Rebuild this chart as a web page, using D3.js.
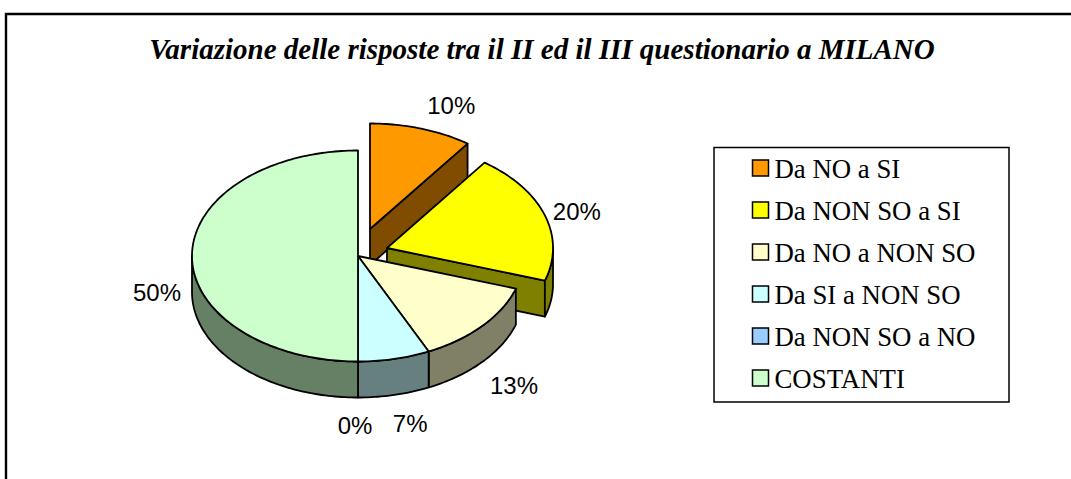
<!DOCTYPE html>
<meta charset="utf-8">
<style>
body { margin: 0; background: #fff; }
text { fill: #000; }
.title { font: italic bold 29px "Liberation Serif", serif; text-anchor: middle; }
.pct { font: 24px "Liberation Sans", sans-serif; text-anchor: middle; dominant-baseline: central; }
.legend-label { font: 26.8px "Liberation Serif", serif; dominant-baseline: central; }
.edge { stroke: #000; stroke-width: 1.8px; stroke-linejoin: round; }
</style>
<body>
<svg width="1071" height="479"></svg>
<script src="https://d3js.org/d3.v7.min.js"></script>
<script>

// chart data
var titleText = "Variazione delle risposte tra il II ed il III questionario a MILANO";
var categories = ["Da NO a SI", "Da NON SO a SI", "Da NO a NON SO", "Da SI a NON SO", "Da NON SO a NO", "COSTANTI"];
var values = [10, 20, 13, 7, 0, 50];
var colors = ["#ff9900", "#ffff00", "#ffffcc", "#ccffff", "#99ccff", "#ccffcc"];

// layout of the fake 3d pie
var cx = 358, cy = 256, rx = 166, ry = 105.5, depth = 36;
var pulled = [[12, -27], [29, -8], [0, 0], [0, 0], [0, 0], [0, 0]];
var labelNudge = [[30, -23], [32, -4], [31.5, 60], [16, 65], [-3, 63.5], [-35, 36]];

var svg = d3.select("svg");

var slices = d3.pie().sort(null)(values);

var px = d3.scaleLinear().domain([-1, 1]).range([cx - rx, cx + rx]);
var py = d3.scaleLinear().domain([-1, 1]).range([cy - ry, cy + ry]);

// angle runs clockwise from 12 o'clock, same as d3.pie
function point(a, dx, dy, drop) {
  return [px(Math.sin(a)) + dx, py(-Math.cos(a)) + dy + (drop || 0)];
}

function arcPoints(a0, a1, dx, dy, drop) {
  var n = Math.max(2, Math.ceil((a1 - a0) / 0.02));
  return d3.range(n + 1).map(function(i) {
    return point(a0 + (a1 - a0) * i / n, dx, dy, drop);
  });
}

var line = d3.line();

function topPath(d, off) {
  var pts = arcPoints(d.startAngle, d.endAngle, off[0], off[1]);
  pts.unshift([cx + off[0], cy + off[1]]);
  return line(pts) + "Z";
}

// outer wall, only the part facing the viewer (90 to 270 degrees)
function rimPath(d, off) {
  var a0 = Math.max(d.startAngle, Math.PI / 2), a1 = Math.min(d.endAngle, Math.PI * 1.5);
  if (a1 <= a0) return null;
  var pts = arcPoints(a0, a1, off[0], off[1]);
  return line(pts.concat(arcPoints(a0, a1, off[0], off[1], depth).reverse())) + "Z";
}

// flat cut wall at the end of the slice
function cutPath(d, off) {
  var apex = [cx + off[0], cy + off[1]];
  var outer = point(d.endAngle, off[0], off[1]);
  return line([apex, outer, [outer[0], outer[1] + depth], [apex[0], apex[1] + depth]]) + "Z";
}

function sideColor(c) {
  var r = d3.rgb(c);
  return d3.rgb(r.r * 0.5, r.g * 0.5, r.b * 0.5);
}

// frame runs off the right and bottom of the picture
svg.append("path")
    .attr("d", "M6,479V14H1071")
    .attr("fill", "none")
    .attr("stroke", "#000")
    .attr("stroke-width", 2.4);

svg.append("text")
    .attr("class", "title")
    .attr("x", 542)
    .attr("y", 59)
    .text(titleText);

// painter order: pulled slices first, the joined pie on top
function drawSlice(i) {
  var d = slices[i], off = pulled[i], c = colors[i];
  if (d.endAngle - d.startAngle <= 0) return;
  var g = svg.append("g").attr("class", "edge");
  if (off[0] || off[1]) {
    g.append("path").attr("d", cutPath(d, off)).attr("fill", sideColor(c));
  }
  var rim = rimPath(d, off);
  if (rim) g.append("path").attr("d", rim).attr("fill", sideColor(c));
  g.append("path").attr("d", topPath(d, off)).attr("fill", c);
}

[0, 1, 2, 3, 4, 5].forEach(drawSlice);

// percent labels
var total = d3.sum(values);
svg.selectAll("text.pct")
    .data(slices)
  .enter().append("text")
    .attr("class", "pct")
    .attr("x", function(d, i) {
      return point((d.startAngle + d.endAngle) / 2, pulled[i][0], pulled[i][1])[0] + labelNudge[i][0];
    })
    .attr("y", function(d, i) {
      return point((d.startAngle + d.endAngle) / 2, pulled[i][0], pulled[i][1])[1] + labelNudge[i][1];
    })
    .text(function(d) { return Math.round(d.value / total * 100) + "%"; });

// legend
svg.append("rect")
    .attr("x", 714)
    .attr("y", 147.5)
    .attr("width", 295)
    .attr("height", 254.5)
    .attr("fill", "#fff")
    .attr("stroke", "#000")
    .attr("stroke-width", 1.5);

var rowY = d3.scalePoint().domain(categories).range([168, 378]);

var row = svg.selectAll("g.row")
    .data(categories)
  .enter().append("g")
    .attr("class", "row")
    .attr("transform", function(d) { return "translate(0," + rowY(d) + ")"; });

row.append("rect")
    .attr("x", 752.5)
    .attr("y", -8)
    .attr("width", 16)
    .attr("height", 16)
    .attr("fill", function(d, i) { return colors[i]; })
    .attr("stroke", "#000")
    .attr("stroke-width", 1.5);

row.append("text")
    .attr("class", "legend-label")
    .attr("x", 774.5)
    .attr("y", 1)
    .text(function(d) { return d; });

</script>
</body>
